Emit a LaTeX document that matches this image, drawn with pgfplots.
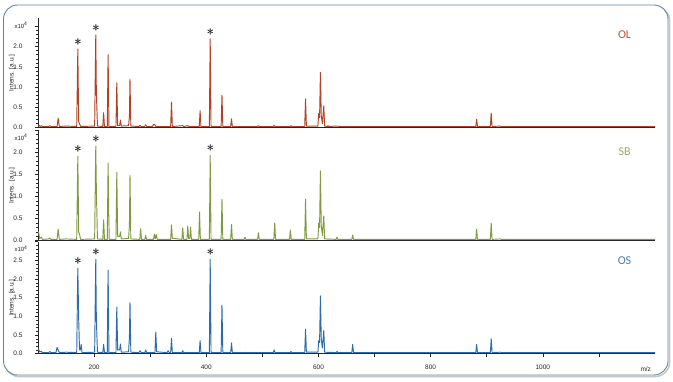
\documentclass[border=0pt]{standalone}
\usepackage{fontspec}
\setmainfont{Liberation Sans}
\newfontfamily\calibri{Carlito}
\usepackage{pgfplots}
\pgfplotsset{compat=1.18}
\definecolor{olc}{RGB}{178,66,38}
\definecolor{oltext}{RGB}{190,82,58}
\definecolor{sbc}{RGB}{128,155,62}
\definecolor{sbtext}{RGB}{150,172,92}
\definecolor{osc}{RGB}{44,108,168}
\definecolor{ostext}{RGB}{74,124,178}
\definecolor{framec}{RGB}{98,136,162}
\pgfplotsset{
  spec/.style={
    scale only axis, width=617pt, xmin=100, xmax=1200, ymin=0,
    axis x line=bottom, axis y line=left,
    axis line style={-, black!85, line width=0.7pt},
    tick align=outside, major tick length=3pt, minor tick length=1.6pt,
    tick style={black!85, line width=0.5pt},
    minor y tick num=4,
    yticklabel style={font=\fontsize{6.5}{7}\selectfont, text=black!85, xshift=-9pt},
    xticklabel style={font=\fontsize{6.5}{7}\selectfont, text=black!85, yshift=-5pt},
    clip=false,
  },
  spline/.style={line width=0.95pt, line join=round},
}
\tikzset{
  star/.style={inner sep=0pt, yshift=7pt, font=\fontsize{15}{15}\selectfont, text=black!85},
  starb/.style={inner sep=0pt, yshift=7pt, xshift=0.35pt, font=\fontsize{15}{15}\selectfont, text=black!85},
  ylab/.style={xshift=-26pt, rotate=90, font=\fontsize{6.5}{7}\selectfont, text=black!85},
  mult/.style={font=\fontsize{6}{7}\selectfont, text=black!85, xshift=-17pt, yshift=-7pt},
}
\begin{document}
\begin{tikzpicture}
\path (0pt,0pt) rectangle (673pt,381pt);
\draw[rounded corners=14pt, black!22, line width=1.6pt] (5pt,4.5pt) rectangle (669.5pt,374.5pt);
\draw[rounded corners=14pt, framec, line width=0.9pt, fill=white] (3.5pt,6pt) rectangle (668pt,376pt);

% ---------- OL ----------
\begin{axis}[spec, at={(38pt,253.3pt)}, anchor=south west, height=109.5pt, ymax=2.7,
  xtick=\empty, ytick={0,0.5,...,2.5}, yticklabels={0.0,0.5,1.0,1.5,2.0,}]
\addplot[spline, olc] coordinates {
(100,0.04)(102,0.06)(104,0.03)(106,0.05)(108,0.03)(119,0.03)(121,0.05)(123,0.03)(134,0.03)(136,0.23)(138,0.03)(150,0.04)
(169,0.03)(171,1.94)(172.5,0.15)(174,0.10)(176,0.03)(201,0.04)(203,2.29)(204,0.9)(206,0.04)(215.5,0.03)(217,0.37)(218.5,0.03)
(223.5,0.03)(225,1.80)(226.5,0.03)(239,0.03)(240.5,1.11)(242,0.05)(245.5,0.05)(247,0.19)(248.5,0.04)(261.5,0.05)(263,0.28)
(264,1.20)(265.5,0.04)(280,0.03)(282,0.06)(284,0.03)(290,0.03)(292,0.07)(294,0.03)(304,0.03)(306,0.08)(308,0.08)(310,0.03)
(336.5,0.03)(338,0.63)(339.5,0.03)(358,0.05)(360,0.03)(367,0.05)(369,0.03)(387.5,0.03)(389,0.42)(390.5,0.03)(405.5,0.03)
(407,2.19)(408.5,0.03)(426.5,0.03)(428,0.80)(429.5,0.03)(443.5,0.03)(445,0.22)(446.5,0.03)(491.5,0.03)(493,0.05)(494.5,0.03)
(519.5,0.03)(521,0.06)(522.5,0.03)(549.5,0.03)(551,0.05)(552.5,0.03)(575.5,0.03)(577,0.71)(578.5,0.04)(599,0.04)(600.5,0.35)
(602,0.25)(603.5,1.36)(605,0.3)(607,0.1)(609.5,0.54)(611,0.04)(615.5,0.03)(617,0.05)(618.5,0.03)(632,0.04)(640,0.03)
(880.5,0.03)(882,0.21)(883.5,0.03)(906.5,0.03)(908,0.36)(909.5,0.03)(924,0.04)(926,0.03)(1200,0.03)};
\node[star] at (axis cs:171,1.94) {$\ast$};\node[starb] at (axis cs:171,1.94) {$\ast$};
\node[star] at (axis cs:203,2.29) {$\ast$};\node[starb] at (axis cs:203,2.29) {$\ast$};
\node[star] at (axis cs:407,2.19) {$\ast$};\node[starb] at (axis cs:407,2.19) {$\ast$};
\node[ylab] at (rel axis cs:0,0.5) {Intens. [a.u.]};
\node[mult] at (rel axis cs:0,1) {x10\textsuperscript{4}};
\node[font=\calibri\fontsize{12}{14}\selectfont, text=oltext] at (rel axis cs:0.9506,0.847) {OL};
\end{axis}

% ---------- SB ----------
\begin{axis}[spec, at={(38pt,140.3pt)}, anchor=south west, height=110.5pt, ymax=2.5,
  xtick=\empty, ytick={0,0.5,...,2.5}, yticklabels={0.0,0.5,1.0,1.5,2.0,}]
\addplot[spline, sbc] coordinates {
(100,0.15)(101,0.2)(103,0.05)(106,0.08)(108,0.03)(119,0.04)(121,0.06)(123,0.03)(134,0.03)(136,0.26)(138,0.03)(150,0.04)
(169,0.03)(171,1.91)(172.5,0.2)(174,0.15)(176,0.03)(201,0.04)(203,2.14)(204,1.2)(206,0.04)(215.5,0.03)(217,0.47)(218.5,0.03)
(223.5,0.03)(225,1.76)(226,0.7)(227,0.03)(239,0.03)(240.5,1.55)(242,0.1)(245.5,0.1)(247,0.2)(248.5,0.04)(261.5,0.05)(263,0.35)
(264,1.48)(265.5,0.04)(281.5,0.03)(283,0.27)(284.5,0.03)(290.5,0.03)(292,0.12)(293.5,0.03)(306,0.03)(307.5,0.15)(309,0.04)
(311,0.14)(312.5,0.03)(336.5,0.03)(338,0.36)(339.5,0.05)(343,0.05)(356.5,0.03)(358,0.29)(359.5,0.03)(365.5,0.03)(367,0.33)
(368.5,0.05)(370.5,0.05)(372,0.31)(373.5,0.03)(386.5,0.03)(388,0.65)(389.5,0.03)(405.5,0.03)(407,1.93)(408.5,0.03)
(426.5,0.03)(428,0.94)(429.5,0.03)(443.5,0.03)(445,0.37)(446.5,0.03)(467.5,0.03)(469,0.08)(470.5,0.03)(491.5,0.03)(493,0.18)
(494.5,0.03)(520.5,0.03)(522,0.40)(523.5,0.03)(548.5,0.03)(550,0.24)(551.5,0.03)(575.5,0.03)(577,0.94)(578.5,0.04)(599,0.04)
(600.5,0.4)(602,0.3)(603.5,1.58)(605,0.35)(607,0.12)(609.5,0.56)(611,0.04)(631.5,0.03)(633,0.08)(634.5,0.03)(659.5,0.03)
(661,0.13)(662.5,0.03)(880.5,0.03)(882,0.26)(883.5,0.03)(906.5,0.03)(908,0.40)(909.5,0.03)(924,0.04)(926,0.03)(1200,0.03)};
\node[star] at (axis cs:171,1.91) {$\ast$};\node[starb] at (axis cs:171,1.91) {$\ast$};
\node[star] at (axis cs:203,2.14) {$\ast$};\node[starb] at (axis cs:203,2.14) {$\ast$};
\node[star] at (axis cs:407,1.93) {$\ast$};\node[starb] at (axis cs:407,1.93) {$\ast$};
\node[ylab] at (rel axis cs:0,0.5) {Intens. [a.u.]};
\node[mult] at (rel axis cs:0,1) {x10\textsuperscript{4}};
\node[font=\calibri\fontsize{12}{14}\selectfont, text=sbtext] at (rel axis cs:0.9506,0.805) {SB};
\end{axis}

% ---------- OS ----------
\begin{axis}[spec, at={(38pt,27.3pt)}, anchor=south west, height=112pt, ymax=3.0,
  ytick={0,0.5,...,3.0}, yticklabels={0.0,0.5,1.0,1.5,2.0,2.5,},
  xtick={200,300,...,1100}, xticklabels={200,,400,,600,,800,,1000,}]
\addplot[spline, osc] coordinates {
(100,0.08)(101,0.12)(103,0.05)(106,0.06)(108,0.03)(119,0.03)(121,0.06)(123,0.03)(132,0.03)(134,0.17)(136,0.1)(138,0.03)
(150,0.04)(169,0.03)(171,2.29)(172.5,0.95)(174,0.1)(175.5,0.1)(177,0.25)(178.5,0.03)(201,0.04)(203,2.53)(204,0.95)(206,0.04)
(215.5,0.03)(217,0.25)(218.5,0.03)(223.5,0.03)(225,2.24)(226.5,0.03)(239,0.03)(240.5,1.25)(242,0.1)(245.5,0.1)(247,0.26)
(248.5,0.04)(261.5,0.05)(263,0.45)(264,1.37)(265.5,0.04)(280,0.03)(282,0.08)(284,0.03)(290.5,0.03)(292,0.1)(293.5,0.03)
(308.5,0.03)(310,0.58)(311.5,0.05)(330,0.03)(332,0.08)(334,0.03)(336.5,0.03)(338,0.41)(339.5,0.03)(356.5,0.03)(358,0.08)
(359.5,0.03)(387.5,0.03)(389,0.35)(390.5,0.03)(405.5,0.03)(407,2.53)(408.5,0.03)(426.5,0.03)(428,1.30)(429.5,0.03)
(443.5,0.03)(445,0.29)(446.5,0.03)(468.5,0.03)(470,0.04)(471.5,0.03)(519.5,0.03)(521,0.1)(522.5,0.03)(549.5,0.03)(551,0.06)
(552.5,0.03)(575.5,0.03)(577,0.66)(578.5,0.04)(599,0.04)(600.5,0.35)(602,0.3)(603.5,1.55)(605,0.4)(607,0.15)(609.5,0.62)
(611,0.04)(631.5,0.03)(633,0.06)(634.5,0.03)(659.5,0.03)(661,0.25)(662.5,0.03)(880.5,0.03)(882,0.25)(883.5,0.03)
(906.5,0.03)(908,0.40)(909.5,0.03)(924,0.04)(926,0.03)(1200,0.03)};
\node[star] at (axis cs:171,2.29) {$\ast$};\node[starb] at (axis cs:171,2.29) {$\ast$};
\node[star] at (axis cs:203,2.53) {$\ast$};\node[starb] at (axis cs:203,2.53) {$\ast$};
\node[star] at (axis cs:407,2.53) {$\ast$};\node[starb] at (axis cs:407,2.53) {$\ast$};
\node[ylab] at (rel axis cs:0,0.5) {Intens. [a.u.]};
\node[mult] at (rel axis cs:0,1) {x10\textsuperscript{4}};
\node[font=\calibri\fontsize{12}{14}\selectfont, text=ostext] at (rel axis cs:0.9506,0.83) {OS};
\node[font=\fontsize{6.5}{7}\selectfont, text=black!85, yshift=-15.6pt] at (rel axis cs:0.985,0) {m/z};
\end{axis}
\end{tikzpicture}
\end{document}
